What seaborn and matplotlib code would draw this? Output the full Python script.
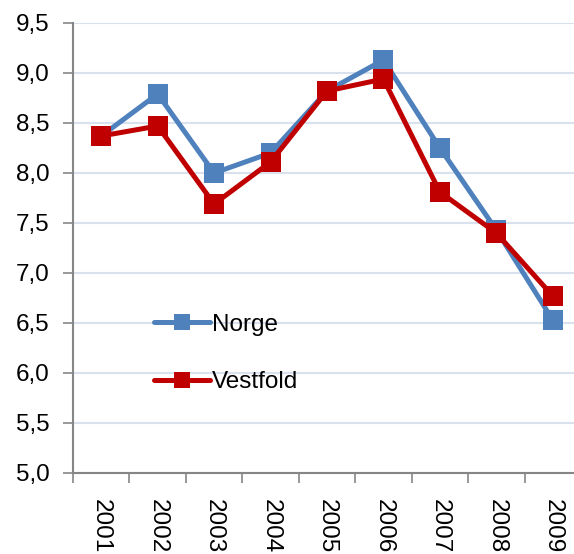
import pandas as pd
import seaborn as sns
import matplotlib.pyplot as plt
from matplotlib.ticker import FixedLocator, FuncFormatter

years = ["2001", "2002", "2003", "2004", "2005", "2006", "2007", "2008", "2009"]
norge = [8.37, 8.79, 8.00, 8.20, 8.82, 9.13, 8.25, 7.43, 6.53]
vestfold = [8.37, 8.47, 7.69, 8.11, 8.82, 8.94, 7.81, 7.40, 6.77]

pos = list(range(len(years)))
df = pd.DataFrame({"pos": pos + pos,
                   "verdi": norge + vestfold,
                   "serie": ["Norge"] * len(years) + ["Vestfold"] * len(years)})

sns.set_style("white")
plt.rcParams["font.family"] = ["Liberation Sans", "DejaVu Sans"]
plt.rcParams["text.color"] = "black"
plt.rcParams["xtick.labelcolor"] = "black"
plt.rcParams["ytick.labelcolor"] = "black"

fig = plt.figure(figsize=(5.74, 5.54), dpi=100)
ax = fig.add_axes([73 / 574, 81 / 554, 508 / 574, 450 / 554])

sns.lineplot(data=df, x="pos", y="verdi", hue="serie",
             palette={"Norge": "#4F81BD", "Vestfold": "#C00000"},
             marker="s", markersize=14, markeredgewidth=0,
             linewidth=3.6, ax=ax)

ax.set_xlim(-0.5, len(years) - 0.5)
ax.set_ylim(5.0, 9.5)
ax.set_yticks([5.0 + 0.5 * i for i in range(10)])
ax.yaxis.set_major_formatter(FuncFormatter(lambda v, p: f"{v:.1f}".replace(".", ",")))
ax.grid(axis="y", color="#D9E1EE", linewidth=1.5)
ax.set_axisbelow(True)

# tick marks between categories, labels at the centre
ax.xaxis.set_major_locator(FixedLocator([p - 0.5 for p in pos]))
ax.xaxis.set_major_formatter(FuncFormatter(lambda v, p: ""))
ax.xaxis.set_minor_locator(FixedLocator(pos))
ax.set_xticklabels(years, minor=True, rotation=-90, fontsize=17.5, va="top", ha="center")
ax.tick_params(axis="x", which="major", length=7, width=1.2, color="#868686", direction="out", bottom=True)
ax.tick_params(axis="x", which="minor", length=0, pad=19)
ax.tick_params(axis="y", length=7, width=1.2, color="#868686", direction="out", left=True, labelsize=17.5, pad=10)

for s in ["top", "right"]:
    ax.spines[s].set_visible(False)
for s in ["left", "bottom"]:
    ax.spines[s].set_color("#868686")
    ax.spines[s].set_linewidth(1.5)

ax.set_xlabel("")
ax.set_ylabel("")
leg = ax.legend(loc="upper left", bbox_to_anchor=(0.14, 0.375), frameon=False, fontsize=17.5,
                handlelength=2.3, handletextpad=0.1, labelspacing=1.45, title=None,
                borderaxespad=0)
for h in leg.legend_handles:
    h.set_markersize(12)

fig.savefig("out.png", dpi=100)
